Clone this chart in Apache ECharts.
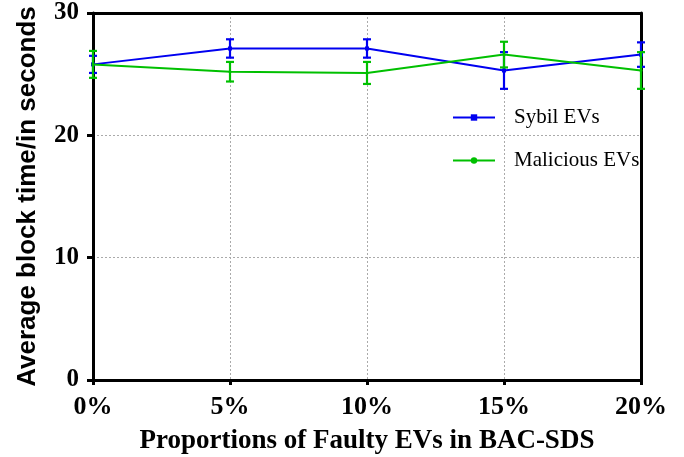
<!DOCTYPE html>
<html><head><meta charset="utf-8">
<script src="https://cdn.jsdelivr.net/npm/echarts@6/dist/echarts.min.js"></script>
<style>html,body{margin:0;padding:0;background:#fff}#c{width:684px;height:457px}</style>
</head><body><div id="c"></div>
<script>
const xValues = [0, 5, 10, 15, 20];
const sybil = [25.8, 27.1, 27.1, 25.3, 26.6];
const sybilErr = [0.7, 0.75, 0.75, 1.5, 1.0];
const malicious = [25.8, 25.2, 25.1, 26.6, 25.3];
const maliciousErr = [1.1, 0.8, 0.9, 1.05, 1.5];
const yTicks = [0, 10, 20, 30];

const BLUE = '#0000f0', GREEN = '#00c000';
const chart = echarts.init(document.getElementById('c'));
function errSeries(name, vals, errs, color, z) {
  return {
    type: 'custom', name: name + ' err', z: z, silent: true,
    data: xValues.map((x, i) => [x, vals[i] - errs[i], vals[i] + errs[i]]),
    renderItem: function (params, api) {
      const lo = api.coord([api.value(0), api.value(1)]);
      const hi = api.coord([api.value(0), api.value(2)]);
      const w = 4;
      const st = { stroke: color, lineWidth: 2.2 };
      return { type: 'group', children: [
        { type: 'line', shape: { x1: lo[0], y1: lo[1], x2: hi[0], y2: hi[1] }, style: st },
        { type: 'line', shape: { x1: lo[0] - w, y1: lo[1], x2: lo[0] + w, y2: lo[1] }, style: st },
        { type: 'line', shape: { x1: hi[0] - w, y1: hi[1], x2: hi[0] + w, y2: hi[1] }, style: st }
      ]};
    }
  };
}
const grid = { left: 93, right: 43, top: 13, bottom: 77, outerBoundsMode: 'none', containLabel: false };
const dotted = { show: true, lineStyle: { color: '#aaa', type: [2, 2], width: 1 } };
chart.setOption({
  animation: false,
  backgroundColor: '#fff',
  grid: grid,
  legend: {
    left: 447, top: 102, orient: 'vertical', itemGap: 22, itemWidth: 42, itemHeight: 8,
    data: ['Sybil EVs', 'Malicious EVs'],
    textStyle: { fontFamily: 'Liberation Serif', fontSize: 21, color: '#000', padding: [0, 0, 0, 14] }
  },
  xAxis: [{
    type: 'value', min: 0, max: 20, interval: 5,
    name: 'Proportions of Faulty EVs in BAC-SDS', nameLocation: 'middle', nameGap: 48,
    nameTextStyle: { fontFamily: 'Liberation Serif', fontWeight: 'bold', fontSize: 27, color: '#000' },
    axisLine: { lineStyle: { color: '#000', width: 3 } },
    axisTick: { show: true, length: 5, lineStyle: { color: '#000', width: 3 } },
    axisLabel: { formatter: v => v + '%', margin: 14, fontFamily: 'Liberation Serif', fontWeight: 'bold', fontSize: 26, color: '#000' },
    splitLine: dotted
  }, {
    type: 'value', min: 0, max: 20, interval: 5, position: 'top',
    axisLine: { show: true, onZero: false, lineStyle: { color: '#000', width: 3 } },
    axisTick: { show: false }, axisLabel: { show: false }, splitLine: { show: false }
  }],
  yAxis: [{
    type: 'value', min: yTicks[0], max: yTicks[yTicks.length - 1], interval: 10,
    name: 'Average block time/in seconds', nameLocation: 'middle', nameGap: 52,
    nameTextStyle: { fontFamily: 'Liberation Sans', fontWeight: 'bold', fontSize: 26, color: '#000' },
    axisLine: { lineStyle: { color: '#000', width: 3 } },
    axisTick: { show: true, length: 6, lineStyle: { color: '#000', width: 3 } },
    axisLabel: { margin: 14, fontFamily: 'Liberation Serif', fontWeight: 'bold', fontSize: 25, color: '#000' },
    splitLine: dotted
  }, {
    type: 'value', min: 0, max: 30, interval: 10, position: 'right',
    axisLine: { show: true, onZero: false, lineStyle: { color: '#000', width: 3 } },
    axisTick: { show: false }, axisLabel: { show: false }, splitLine: { show: false }
  }],
  series: [
    errSeries('Sybil EVs', sybil, sybilErr, BLUE, 3),
    { name: 'Sybil EVs', type: 'line', z: 4, data: xValues.map((x, i) => [x, sybil[i]]),
      symbol: 'rect', symbolSize: 4, itemStyle: { color: BLUE }, lineStyle: { color: BLUE, width: 2 } },
    errSeries('Malicious EVs', malicious, maliciousErr, GREEN, 5),
    { name: 'Malicious EVs', type: 'line', z: 6, data: xValues.map((x, i) => [x, malicious[i]]),
      symbol: 'circle', symbolSize: 3, itemStyle: { color: GREEN }, lineStyle: { color: GREEN, width: 2 } }
  ]
});
</script></body></html>
